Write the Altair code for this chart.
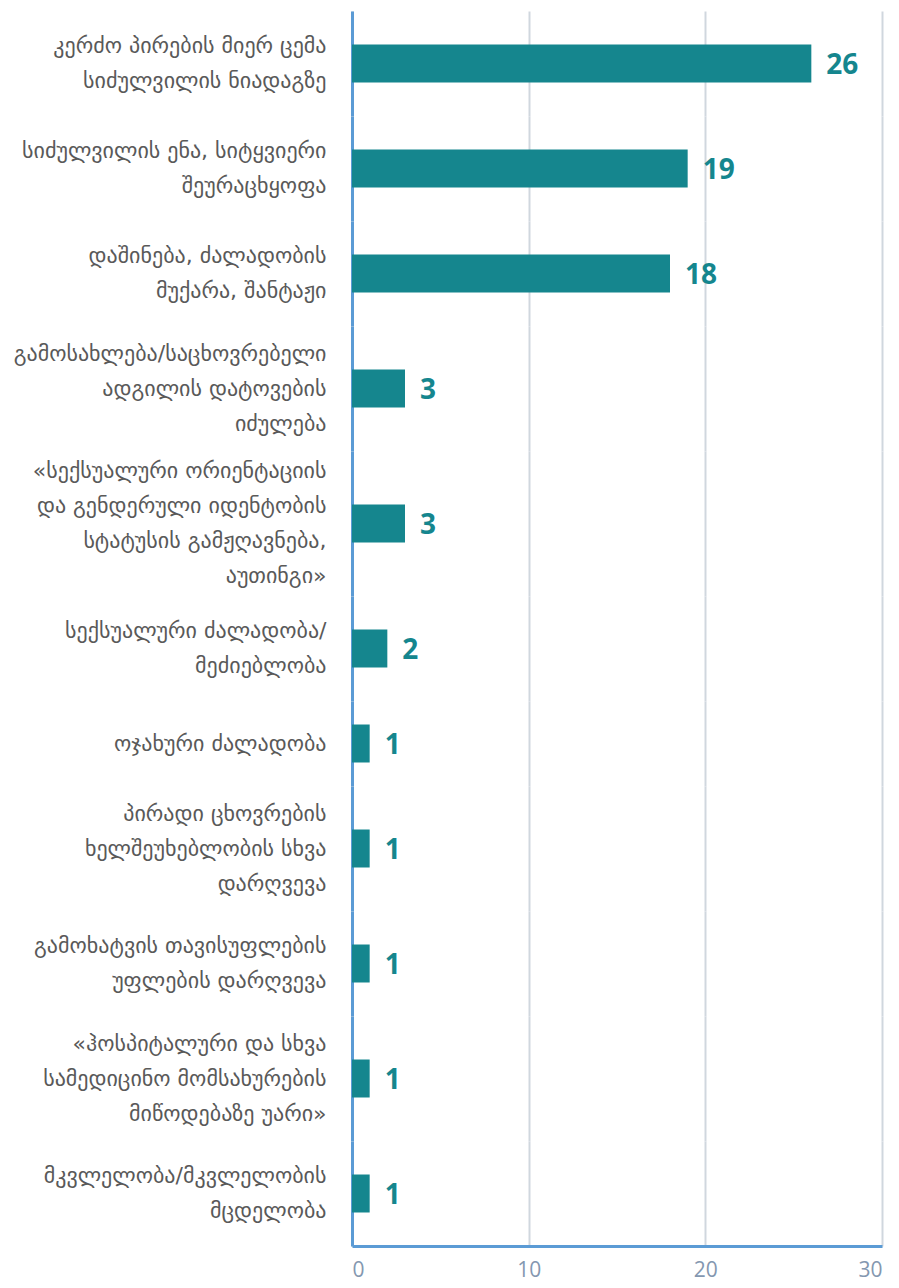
import altair as alt
import pandas as pd

categories = [
    "კერძო პირების მიერ ცემა\nსიძულვილის ნიადაგზე",
    "სიძულვილის ენა, სიტყვიერი\nშეურაცხყოფა",
    "დაშინება, ძალადობის\nმუქარა, შანტაჟი",
    "გამოსახლება/საცხოვრებელი\nადგილის დატოვების\nიძულება",
    "«სექსუალური ორიენტაციის\nდა გენდერული იდენტობის\nსტატუსის გამჟღავნება,\nაუთინგი»",
    "სექსუალური ძალადობა/\nმეძიებლობა",
    "ოჯახური ძალადობა",
    "პირადი ცხოვრების\nხელშეუხებლობის სხვა\nდარღვევა",
    "გამოხატვის თავისუფლების\nუფლების დარღვევა",
    "«ჰოსპიტალური  და სხვა\nსამედიცინო მომსახურების\nმიწოდებაზე უარი»",
    "მკვლელობა/მკვლელობის\nმცდელობა",
]
values = [26, 19, 18, 3, 3, 2, 1, 1, 1, 1, 1]
x_ticks = [0, 10, 20, 30]

df = pd.DataFrame({"category": categories, "value": values})

TEAL = "#15868E"
BLUE = "#5B9BD5"
LINE_H = 35
AXIS_EXTENT = 344


def make_row(i):
    cat = categories[i]
    n_lines = cat.count("\n") + 1
    last = i == len(categories) - 1
    d = df.iloc[[i]]
    y_enc = alt.Y(
        "category:N",
        title=None,
        axis=alt.Axis(
            labelExpr="split(datum.label, '\\n')",
            labelFont="DejaVu Sans",
            labelFontSize=22,
            labelLineHeight=LINE_H,
            labelColor="#595959",
            labelPadding=26,
            labelLimit=400,
            labelOffset=-(n_lines - 1) * LINE_H / 2,
            ticks=False,
            domainColor=BLUE,
            domainWidth=3,
            grid=False,
            minExtent=AXIS_EXTENT,
            maxExtent=AXIS_EXTENT,
        ),
    )
    if last:
        x_axis = alt.Axis(
            values=x_ticks,
            labelFont="Open Sans",
            labelFontSize=21,
            labelColor="#8497B0",
            labelPadding=13,
            ticks=False,
            domainColor=BLUE,
            domainWidth=3,
            gridColor="#D0D7DE",
            gridWidth=2,
        )
    else:
        x_axis = alt.Axis(
            values=x_ticks,
            labels=False,
            ticks=False,
            domain=False,
            gridColor="#D0D7DE",
            gridWidth=2,
        )
    x_enc = alt.X(
        "value:Q",
        title=None,
        scale=alt.Scale(domain=[0, 30], nice=False),
        axis=x_axis,
    )
    bars = alt.Chart(d).mark_bar(color=TEAL, height=38).encode(x=x_enc, y=y_enc)
    labels = alt.Chart(d).mark_text(
        align="left", baseline="middle", dx=15, dy=2,
        font="Open Sans", fontWeight="bold", fontSize=28, color=TEAL,
    ).encode(x="value:Q", y="category:N", text="value:Q")
    return (bars + labels).properties(width=530, height=65 + 20 * n_lines)


chart = (
    alt.vconcat(*[make_row(i) for i in range(len(categories))], spacing=0)
    .properties(padding={"left": 0, "top": 3, "right": 5, "bottom": 5})
    .configure(background="white")
    .configure_view(stroke=None)
)

chart.save("out.html", embed_options={"renderer": "svg", "actions": False})
